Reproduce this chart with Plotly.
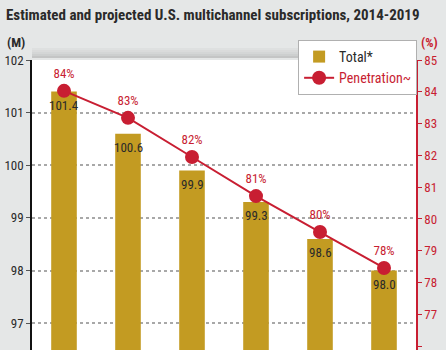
import plotly.graph_objects as go

years = ["2014", "2015", "2016", "2017", "2018", "2019"]
total = [101.4, 100.6, 99.9, 99.3, 98.6, 98.0]
total_labels = ["101.4", "100.6", "99.9", "99.3", "98.6", "98.0"]
penetration = [84.03, 83.18, 81.95, 80.72, 79.59, 78.46]
pen_labels = ["84%", "83%", "82%", "81%", "80%", "78%"]

FONT = "Roboto Condensed, DejaVu Sans Condensed, sans-serif"
GOLD = "#c39b22"
RED = "#c81e32"
DARK = "#2a2a2a"

fig = go.Figure()
fig.add_trace(go.Bar(
    x=years, y=total, name="Total*",
    marker=dict(color=GOLD, line=dict(width=0)),
    width=0.4,
    yaxis="y",
))
fig.add_trace(go.Scatter(
    x=years, y=penetration, name="<span style='color:%s'>Penetration~</span>" % RED,
    mode="lines+markers+text",
    line=dict(color=RED, width=2),
    marker=dict(color=RED, size=14),
    text=pen_labels, textposition="top center",
    textfont=dict(family=FONT, size=13, color=RED),
    cliponaxis=False,
    yaxis="y2",
))

# bar value labels (category index positions on the category axis)
annotations = [
    dict(x=i, y=v, xref="x", yref="y", text=lab, showarrow=False,
         yanchor="top", yshift=-4,
         font=dict(family=FONT, size=13, color=DARK))
    for i, (v, lab) in enumerate(zip(total, total_labels))
]
annotations += [
    dict(text="<b>(M)</b>", xref="paper", yref="paper", x=-0.07, y=1.062,
         xanchor="left", yanchor="middle", showarrow=False,
         font=dict(family=FONT, size=13, color=DARK)),
    dict(text="<b>(%)</b>", xref="paper", yref="paper", x=1.036, y=1.062,
         xanchor="center", yanchor="middle", showarrow=False,
         font=dict(family=FONT, size=13, color=RED)),
]

# soft shadow above the plot area
shapes = []
for i, op in enumerate([0.05, 0.08, 0.12, 0.17, 0.24]):
    shapes.append(dict(type="rect", xref="paper", yref="paper", layer="below",
                       x0=0, x1=1, y0=1 + (5 - i) * 2 / 290, y1=1 + (5 - i + 1) * 2 / 290,
                       fillcolor="rgba(90,90,90,%.2f)" % op, line=dict(width=0)))

fig.update_layout(
    width=446, height=350,
    margin=dict(l=32, r=30, t=60, b=0),
    paper_bgcolor="#e5e7e7",
    plot_bgcolor="#ffffff",
    font=dict(family=FONT, size=13, color=DARK),
    showlegend=True,
    legend=dict(
        x=0.693, y=1.069, xanchor="left", yanchor="top",
        bgcolor="#ffffff", bordercolor="#b0b0b0", borderwidth=1,
        font=dict(family=FONT, size=14, color=DARK),
        tracegroupgap=0, itemwidth=30,
    ),
    title=dict(
        text="<b>Estimated and projected U.S. multichannel subscriptions, 2014-2019</b>",
        x=6/446, xanchor="left", xref="container",
        y=1-15/350, yanchor="middle", yref="container",
        font=dict(family=FONT, size=15, color=DARK),
    ),
    xaxis=dict(
        type="category", range=[-0.5, 5.5],
        showticklabels=False, showgrid=False, zeroline=False, ticks="",
    ),
    yaxis=dict(
        range=[96.49, 102], dtick=1, tick0=97,
        showline=True, linecolor="#111111", linewidth=1.5,
        ticks="outside", ticklen=4, tickcolor="#555555",
        showgrid=True, gridcolor="#a8a8a8", griddash="dot", gridwidth=1.5,
        zeroline=False,
        tickfont=dict(family=FONT, size=13, color=DARK),
    ),
    yaxis2=dict(
        range=[75.88, 85], dtick=1, tick0=76,
        overlaying="y", side="right",
        showline=True, linecolor=RED, linewidth=1.5,
        ticks="outside", ticklen=4, tickcolor=RED,
        showgrid=False, zeroline=False,
        tickfont=dict(family=FONT, size=13, color=RED),
    ),
    annotations=annotations,
    shapes=shapes,
)

fig.write_html("out.html")
